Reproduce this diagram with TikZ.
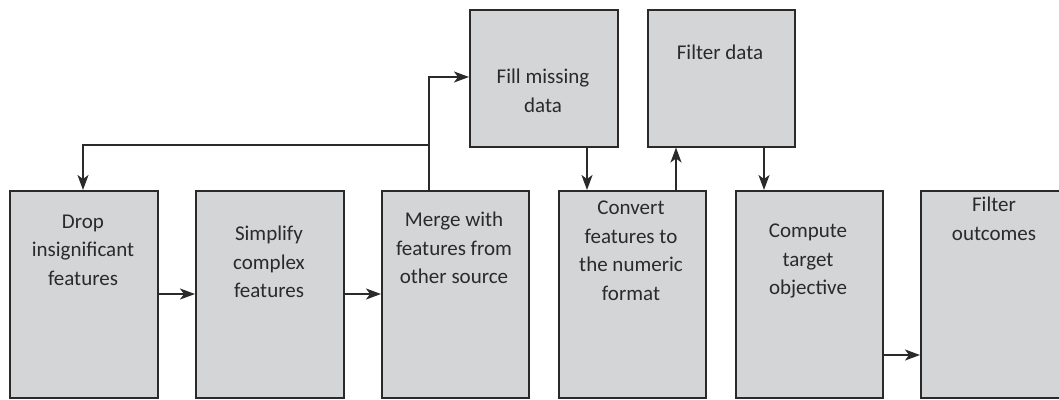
\documentclass[tikz,border=0pt]{standalone}
\usepackage{fontspec}
\setmainfont{Carlito}
\usetikzlibrary{arrows.meta}
\definecolor{boxfill}{HTML}{D4D5D7}
\definecolor{ink}{HTML}{2A2A2A}
\begin{document}
\begin{tikzpicture}[x=1pt,y=-1pt,
  blk/.style={draw=ink,fill=boxfill,line width=1.5pt,anchor=north west,inner sep=0pt,minimum width=#1},
  lbl/.style={text=ink,align=center,font=\fontsize{21}{28.5}\selectfont,inner sep=0pt},
  arr/.style={draw=ink,line width=1.6pt,-{Stealth[length=15pt,width=11pt,inset=4pt]}}]
\useasboundingbox (0,0) rectangle (1059,399);
\clip (0,0) rectangle (1059,399);
% bottom row
\node[blk=148pt,minimum height=207pt] (b1) at (9,190) {};
\node[blk=148pt,minimum height=207pt] (b2) at (195,190) {};
\node[blk=147pt,minimum height=207pt] (b3) at (381,190) {};
\node[blk=147pt,minimum height=207pt] (b4) at (558,190) {};
\node[blk=147pt,minimum height=207pt] (b5) at (735,190) {};
\node[blk=148pt,minimum height=207pt] (b6) at (920,190) {};
% top row
\node[blk=148pt,minimum height=137pt] (t1) at (469,9) {};
\node[blk=147pt,minimum height=137pt] (t2) at (647,9) {};
% labels
\node[lbl] (l1) at (83,250) {Drop\\insignificant\\features};
\node[lbl] (l2) at (269,262) {Simplify\\complex\\features};
\node[lbl] (l3) at (454,248) {Merge with\\features from\\other source};
\node[lbl] (l4) at (631,251) {Convert\\features to\\the numeric\\format};
\node[lbl] (l5) at (808,261) {Compute\\target\\objective};
\node[lbl] (l6) at (994,219) {Filter\\outcomes};
\node[lbl] (l7) at (543,91) {Fill missing\\data};
\node[lbl] (l8) at (720,52) {Filter data};
% connectors
\coordinate (r1) at (0,294);
\coordinate (r2) at (0,355);
\coordinate (j) at (429,145);
\coordinate (k) at (83,145);
\coordinate (m) at (429,77);
\draw[arr] (b1.east |- r1) -- (b2.west |- r1);
\draw[arr] (b2.east |- r1) -- (b3.west |- r1);
\draw[arr] (b5.east |- r2) -- (b6.west |- r2);
\draw[arr] (b3.north -| j) -- (j) -- (k) -- (b1.north -| k);
\draw[arr] (j) -- (m) -- (t1.west |- m);
\coordinate (c1) at (587,0);
\coordinate (c2) at (676,0);
\coordinate (c3) at (764,0);
\draw[arr] (t1.south -| c1) -- (b4.north -| c1);
\draw[arr] (b4.north -| c2) -- (t2.south -| c2);
\draw[arr] (t2.south -| c3) -- (b5.north -| c3);
\end{tikzpicture}
\end{document}
